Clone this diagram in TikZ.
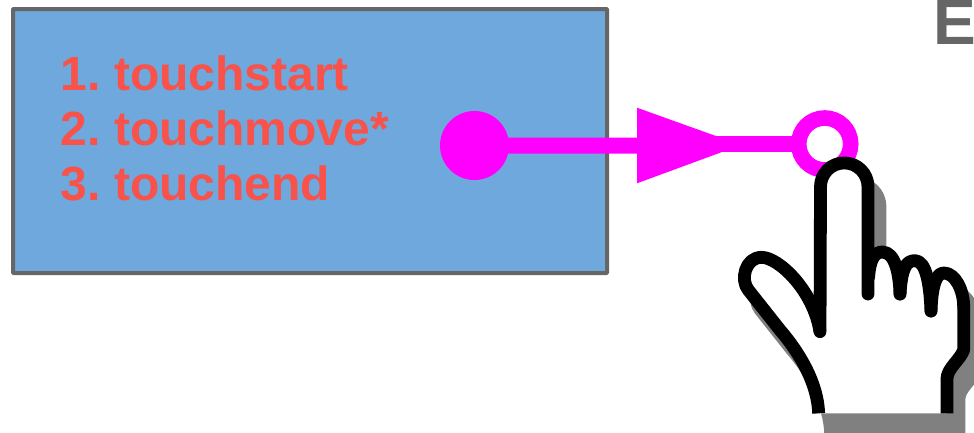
\documentclass[tikz,border=0pt]{standalone}
\usepackage{fontspec}
\setmainfont{Liberation Sans}
\frenchspacing
\definecolor{boxfill}{HTML}{6FA8DC}
\definecolor{boxline}{HTML}{666666}
\definecolor{redtext}{HTML}{F9524A}
\definecolor{magline}{HTML}{FF00FF}
\definecolor{shadowgray}{HTML}{808080}
\newcommand{\handsil}{(296,990) -- (296,970) .. controls (293,880) and (240,790) .. (180,720) -- (85,600) .. controls (60,570) and (75,502) .. (125,502) .. controls (175,502) and (280,600) .. (300,725) -- (301.5,290) arc[start angle=180,end angle=360,radius=71.25] -- (444,540) .. controls (450,505) and (465,486) .. (487,486) .. controls (520,486) and (535,530) .. (540,570) .. controls (545,530) and (560,512) .. (585,512) .. controls (615,512) and (627,560) .. (633,610) .. controls (640,570) and (655,549) .. (672,549) .. controls (705,549) and (731,600) .. (731,650) -- (731,780) .. controls (720,810) and (682,835) .. (681,865) -- (681,990) -- cycle}
\tikzset{
  px/.style={x=0.75pt,y=-0.75pt},
  zoomunits/.style={x=0.25pt,y=-0.25pt},
  mainbox/.style={draw=boxline,fill=boxfill,line width=3pt,rounded corners=0.6pt,minimum width=445.5pt,minimum height=198pt,inner sep=0pt},
  evt/.style={anchor=base west,text=redtext,font=\fontsize{36pt}{41pt}\selectfont\bfseries,inner sep=0pt},
  dot/.style={circle,fill=magline,minimum size=51.75pt,inner sep=0pt},
  ring/.style={circle,draw=magline,fill=white,line width=11.7pt,minimum size=39pt,inner sep=0pt,outer sep=0pt},
  wire/.style={draw=magline,line width=12pt},
  handline/.style={black,line width=9.6pt,line join=round},
}
\begin{document}
\begin{tikzpicture}[px]
\useasboundingbox (0,0) rectangle (974,432);
\clip (0,0) rectangle (974,432);
\node[mainbox] (box) at (310,141) {};
\node[evt] (t1) at (60.5,90) {1. touchstart};
\node[evt] (t2) at (60.5,145) {2. touchmove*};
\node[evt] (t3) at (60.5,200) {3. touchend};
\node[anchor=base west,inner sep=0pt,text=boxline,font=\fontsize{48pt}{48pt}\selectfont\bfseries] (e) at (933,44) {E};
\node[dot] (start) at (474.5,145.5) {};
\node[ring] (end) at (824.7,144) {};
\coordinate (a1) at (680,145.7);
\coordinate (a2) at (680,144);
\draw[wire] (start.center) -- (a1);
\draw[wire] (a2) -- (end.west);
\fill[magline] (637,107.7) -- (741,145) -- (637,183.3) -- cycle;
\begin{scope}[shift={(732,110)},zoomunits]
  \fill[shadowgray,draw=shadowgray,line width=9.6pt,line join=round] \handsil;
\end{scope}
\begin{scope}[shift={(720,90)},zoomunits]
  \fill[white] (296,970) .. controls (293,880) and (240,790) .. (180,720) -- (85,600) .. controls (60,570) and (75,502) .. (125,502) .. controls (175,502) and (280,600) .. (300,725) -- (301.5,290) arc[start angle=180,end angle=360,radius=71.25] -- (444,540) .. controls (450,505) and (465,486) .. (487,486) .. controls (520,486) and (535,530) .. (540,570) .. controls (545,530) and (560,512) .. (585,512) .. controls (615,512) and (627,560) .. (633,610) .. controls (640,570) and (655,549) .. (672,549) .. controls (705,549) and (731,600) .. (731,650) -- (731,780) .. controls (720,810) and (682,835) .. (681,865) -- (681,970) -- cycle;
  \draw[handline] (296,970) .. controls (293,880) and (240,790) .. (180,720) -- (85,600) .. controls (60,570) and (75,502) .. (125,502) .. controls (175,502) and (280,600) .. (300,725);
  \draw[handline,line cap=round] (300,725) -- (301.5,290) arc[start angle=180,end angle=360,radius=71.25] -- (444,612);
  \draw[handline,line cap=round] (446,560) .. controls (450,505) and (465,486) .. (487,486) .. controls (525,486) and (538,550) .. (540,612);
  \draw[handline,line cap=round] (540,612) .. controls (545,530) and (560,512) .. (585,512) .. controls (620,512) and (630,590) .. (633,663);
  \draw[handline,line cap=round] (633,663) .. controls (636,580) and (650,549) .. (672,549) .. controls (705,549) and (731,600) .. (731,650);
  \draw[handline] (731,650) -- (731,780) .. controls (720,810) and (682,835) .. (681,865) -- (681,970);
\end{scope}
\end{tikzpicture}
\end{document}
